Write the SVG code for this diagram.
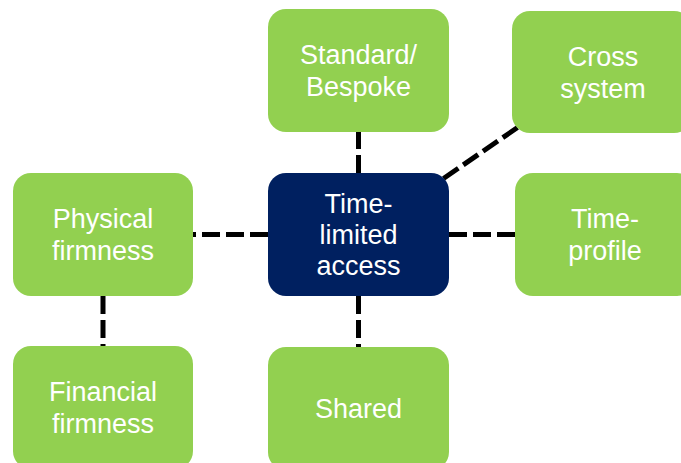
<svg xmlns="http://www.w3.org/2000/svg" width="681" height="463" viewBox="0 0 681 463">
<style>
.box{fill:#92D050;}
.core{fill:#002060;}
.t{fill:#FFFFFF;font-family:"Liberation Sans",Arial,sans-serif;font-size:27px;text-anchor:middle;}
.c{stroke:#000000;stroke-width:5;stroke-dasharray:18 6;fill:none;}
</style>
<rect width="681" height="463" fill="#FFFFFF"/>
<g id="connectors">
<line class="c" x1="268" y1="234.5" x2="193" y2="234.5"/>
<line class="c" x1="449" y1="234.5" x2="515" y2="234.5"/>
<line class="c" x1="358.5" y1="173" x2="358.5" y2="132"/>
<line class="c" x1="358.5" y1="296" x2="358.5" y2="347"/>
<line class="c" x1="103" y1="296" x2="103" y2="346"/>
<line class="c" x1="443.5" y1="178.5" x2="517.5" y2="127.5"/>
</g>
<g id="standard">
<rect class="box" x="268" y="9" width="181" height="123" rx="18"/>
<text class="t" x="358.5" y="64">Standard/</text>
<text class="t" x="358.5" y="96">Bespoke</text>
</g>
<g id="cross">
<rect class="box" x="512" y="11" width="180" height="122" rx="18"/>
<text class="t" x="603" y="66">Cross</text>
<text class="t" x="603" y="98">system</text>
</g>
<g id="physical">
<rect class="box" x="13" y="173" width="180" height="123" rx="18"/>
<text class="t" x="103" y="228">Physical</text>
<text class="t" x="103" y="260">firmness</text>
</g>
<g id="center">
<rect class="core" x="268" y="173" width="181" height="123" rx="18"/>
<text class="t" x="358.5" y="213">Time-</text>
<text class="t" x="358.5" y="244">limited</text>
<text class="t" x="358.5" y="275">access</text>
</g>
<g id="timeprofile">
<rect class="box" x="515" y="173" width="180" height="123" rx="18"/>
<text class="t" x="605" y="228">Time-</text>
<text class="t" x="605" y="260">profile</text>
</g>
<g id="financial">
<rect class="box" x="13" y="346" width="180" height="123" rx="18"/>
<text class="t" x="103" y="401">Financial</text>
<text class="t" x="103" y="433">firmness</text>
</g>
<g id="shared">
<rect class="box" x="268" y="347" width="181" height="123" rx="18"/>
<text class="t" x="358.5" y="418">Shared</text>
</g>
</svg>
